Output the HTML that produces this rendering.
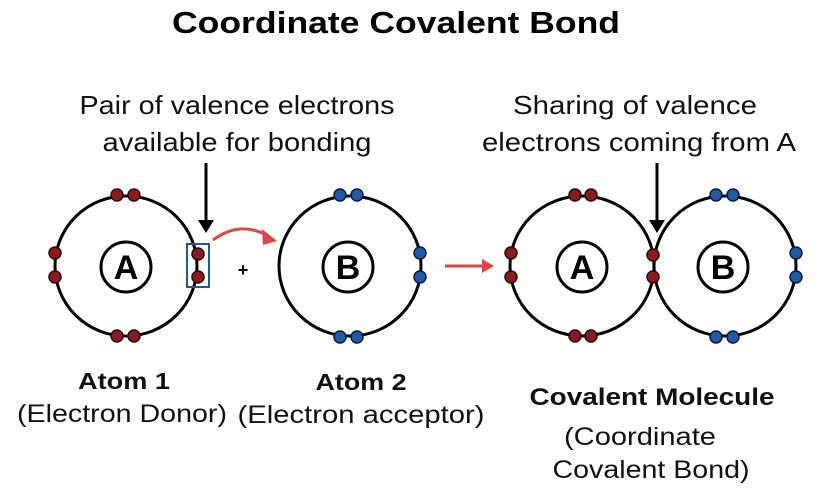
<!DOCTYPE html>
<html><head><meta charset="utf-8"><style>body{margin:0;background:#fff}svg{display:block}</style></head>
<body>
<svg width="825" height="500" viewBox="0 0 825 500" xmlns="http://www.w3.org/2000/svg" font-family="Liberation Sans, sans-serif">
<text x="396" y="33" font-size="31" font-weight="bold" text-anchor="middle" textLength="448" lengthAdjust="spacingAndGlyphs">Coordinate Covalent Bond</text>
<g font-size="26" text-anchor="middle" fill="#111" lengthAdjust="spacingAndGlyphs">
<text x="237" y="114" textLength="315" lengthAdjust="spacingAndGlyphs">Pair of valence electrons</text>
<text x="237" y="151" textLength="269" lengthAdjust="spacingAndGlyphs">available for bonding</text>
<text x="635" y="114" textLength="244" lengthAdjust="spacingAndGlyphs">Sharing of  valence</text>
<text x="639" y="151" textLength="314" lengthAdjust="spacingAndGlyphs">electrons coming from A</text>
<text x="124" y="389" font-weight="bold" font-size="23" textLength="92" lengthAdjust="spacingAndGlyphs">Atom 1</text>
<text x="122" y="422" font-size="25" textLength="210" lengthAdjust="spacingAndGlyphs">(Electron Donor)</text>
<text x="361" y="390" font-weight="bold" font-size="23" textLength="91" lengthAdjust="spacingAndGlyphs">Atom 2</text>
<text x="361" y="423" font-size="25" textLength="247" lengthAdjust="spacingAndGlyphs">(Electron acceptor)</text>
<text x="652" y="405" font-weight="bold" font-size="24" textLength="245" lengthAdjust="spacingAndGlyphs">Covalent Molecule</text>
<text x="640" y="445" font-size="25" textLength="152" lengthAdjust="spacingAndGlyphs">(Coordinate</text>
<text x="651" y="478" font-size="25" textLength="197" lengthAdjust="spacingAndGlyphs">Covalent Bond)</text>
</g>
<g fill="none" stroke="#000" stroke-width="3">
<ellipse cx="126" cy="266" rx="71" ry="70"/>
<ellipse cx="350" cy="266" rx="71" ry="70"/>
<ellipse cx="582" cy="266" rx="72" ry="70"/>
<ellipse cx="725" cy="266" rx="71" ry="70"/>
<circle cx="126" cy="267" r="25"/>
<circle cx="348" cy="267" r="25"/>
<circle cx="582" cy="267" r="25"/>
<circle cx="723" cy="267" r="25"/>
</g>
<g font-size="34" font-weight="bold" text-anchor="middle">
<text x="126" y="279">A</text><text x="348" y="279">B</text>
<text x="582" y="279">A</text><text x="723" y="279">B</text>
</g>
<rect x="187" y="244" width="22" height="43" fill="none" stroke="#1f5b8f" stroke-width="2"/>
<g fill="#8b1a1f" stroke="#2a0a0a" stroke-width="1.5">
<circle cx="117" cy="195" r="6"/><circle cx="134" cy="195" r="6"/>
<circle cx="117" cy="336" r="6"/><circle cx="134" cy="336" r="6"/>
<circle cx="55" cy="253" r="6"/><circle cx="55" cy="277" r="6"/>
<circle cx="198" cy="254" r="6"/><circle cx="198" cy="277" r="6"/>
<circle cx="575" cy="195" r="6"/><circle cx="591" cy="195" r="6"/>
<circle cx="575" cy="336" r="6"/><circle cx="591" cy="336" r="6"/>
<circle cx="511" cy="253" r="6"/><circle cx="511" cy="277" r="6"/>
<circle cx="653" cy="255" r="6"/><circle cx="653" cy="277" r="6"/>
</g>
<g fill="#1f5aa6" stroke="#0a1a3a" stroke-width="1.5">
<circle cx="340" cy="195" r="6"/><circle cx="357" cy="195" r="6"/>
<circle cx="340" cy="337" r="6"/><circle cx="357" cy="337" r="6"/>
<circle cx="420" cy="253" r="6"/><circle cx="420" cy="277" r="6"/>
<circle cx="716" cy="195" r="6"/><circle cx="733" cy="195" r="6"/>
<circle cx="716" cy="337" r="6"/><circle cx="733" cy="337" r="6"/>
<circle cx="796" cy="253" r="6"/><circle cx="796" cy="277" r="6"/>
</g>
<line x1="206" y1="163" x2="206" y2="222" stroke="#000" stroke-width="3"/>
<path d="M198,220 L214,220 L206,233 z" fill="#000"/>
<line x1="657" y1="163" x2="657" y2="222" stroke="#000" stroke-width="3"/>
<path d="M649,220 L665,220 L657,233 z" fill="#000"/>
<path d="M213,240 Q240,220 268,236" fill="none" stroke="#e04545" stroke-width="3"/>
<path d="M262,229 L277,241 L263,245 z" fill="#e04545"/>
<line x1="445" y1="266" x2="484" y2="266" stroke="#e04545" stroke-width="3"/>
<path d="M482,259 L494,266 L482,273 z" fill="#e04545"/>
<text x="243" y="276" font-size="18" font-weight="bold" text-anchor="middle">+</text>
</svg>
</body></html>
